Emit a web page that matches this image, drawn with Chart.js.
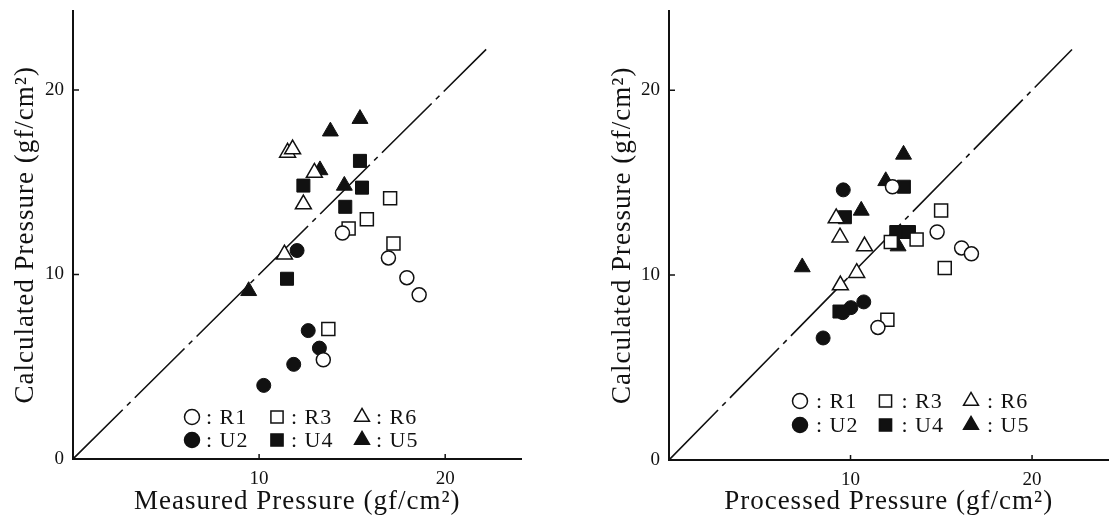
<!DOCTYPE html>
<html><head><meta charset="utf-8">
<script src="https://cdn.jsdelivr.net/npm/chart.js@4.4.1/dist/chart.umd.min.js"></script>
<style>
html,body{margin:0;padding:0;background:#fff;}
#wrap{position:relative;width:1119px;height:521px;overflow:hidden;background:#fff}
canvas{position:absolute;top:0}
#c1{left:0}
#c2{left:560px}
</style></head><body>
<div id="wrap"><canvas id="c1" width="560" height="521"></canvas><canvas id="c2" width="559" height="521"></canvas></div>
<script>
// ---------------- data ----------------
const seriesNames = ['R1', 'R3', 'R6', 'U2', 'U4', 'U5'];

// Left panel: Measured Pressure (x) vs Calculated Pressure (y)
const measuredR1 = [[14.48, 12.25], [16.95, 10.90], [17.94, 9.83], [18.60, 8.90], [13.45, 5.38]];
const measuredR3 = [[14.81, 12.49], [15.79, 13.00], [17.04, 14.13], [17.22, 11.68], [13.72, 7.05]];
const measuredR6 = [[11.53, 16.61], [11.80, 16.79], [12.97, 15.52], [12.38, 13.81], [11.36, 11.09]];
const measuredU2 = [[12.04, 11.30], [12.64, 6.96], [13.24, 6.01], [11.86, 5.13], [10.25, 3.99]];
const measuredU4 = [[15.42, 16.16], [12.38, 14.82], [15.53, 14.71], [14.63, 13.67], [11.50, 9.77]];
const measuredU5 = [[15.42, 18.44], [13.83, 17.76], [13.27, 15.66], [14.58, 14.82], [9.44, 9.11]];

// Right panel: Processed Pressure (x) vs Calculated Pressure (y)
const processedR1 = [[12.31, 14.78], [14.77, 12.33], [16.12, 11.47], [16.66, 11.15], [11.51, 7.17]];
const processedR3 = [[14.99, 13.49], [13.64, 11.92], [12.22, 11.79], [15.19, 10.39], [12.03, 7.58]];
const processedR6 = [[9.21, 13.08], [9.42, 12.04], [10.77, 11.56], [10.34, 10.12], [9.44, 9.45]];
const processedU2 = [[9.60, 14.61], [10.73, 8.55], [10.02, 8.24], [9.57, 7.97], [8.49, 6.60]];
const processedU4 = [[12.94, 14.78], [9.69, 13.13], [12.52, 12.33], [13.22, 12.33], [9.39, 8.03]];
const processedU5 = [[12.92, 16.52], [11.94, 15.09], [10.59, 13.49], [7.34, 10.43], [12.62, 11.56]];

// 1:1 reference line (from, to)
const diagonal = [0, 22.2];

// tick labels
const xTickValues = [10, 20];
const yTickValues = [0, 10, 20];
const tickMarkValues = [10, 20];

const yTitle = 'Calculated Pressure (gf/cm²)';
const xTitleLeft = 'Measured Pressure (gf/cm²)';
const xTitleRight = 'Processed Pressure (gf/cm²)';

// ---------------- styles ----------------
const INK = '#111';
const FONT = "'Liberation Serif', 'DejaVu Serif', serif";
const seriesStyle = {
  R1: {shape: 'circle', radius: 7, filled: false},
  R3: {shape: 'rect', radius: 9.2, filled: false},
  R6: {shape: 'triangle', radius: 9.2, filled: false},
  U2: {shape: 'circle', radius: 7, filled: true},
  U4: {shape: 'rect', radius: 9.2, filled: true},
  U5: {shape: 'triangle', radius: 9.2, filled: true}
};

function buildDatasets(seriesData) {
  const ds = seriesNames.map((name, i) => {
    const st = seriesStyle[name];
    return {
      type: 'scatter',
      label: name,
      data: seriesData[i].map(p => ({x: p[0], y: p[1]})),
      pointStyle: st.shape,
      pointRadius: st.radius,
      pointHoverRadius: st.radius,
      pointBackgroundColor: st.filled ? INK : '#fff',
      pointBorderColor: INK,
      pointBorderWidth: st.filled ? 1 : 1.5,
      order: st.filled ? 1 : 0
    };
  });
  ds.push({
    type: 'line',
    label: 'diag',
    data: diagonal.map(v => ({x: v, y: v})),
    borderColor: INK,
    borderWidth: 1.6,
    borderDash: [70, 6, 5, 6],
    pointRadius: 0,
    fill: false,
    tension: 0,
    order: 2
  });
  return ds;
}

// letter spacing for titles; reset before tick labels
const spacingPlugin = {
  id: 'spacing',
  beforeDraw(chart) { chart.ctx.letterSpacing = '1px'; },
  afterDatasetsDraw(chart) { chart.ctx.letterSpacing = '0px'; }
};

// inward tick marks
const inwardTicks = {
  id: 'inwardTicks',
  afterDraw(chart) {
    const ctx = chart.ctx, xs = chart.scales.x, ys = chart.scales.y;
    ctx.save();
    ctx.strokeStyle = INK;
    ctx.lineWidth = 1.5;
    ctx.beginPath();
    tickMarkValues.forEach(v => {
      const px = xs.getPixelForValue(v);
      ctx.moveTo(px, xs.top); ctx.lineTo(px, xs.top - 5);
      const py = ys.getPixelForValue(v);
      ctx.moveTo(ys.right, py); ctx.lineTo(ys.right + 6, py);
    });
    ctx.stroke();
    ctx.restore();
  }
};

// symbol key drawn inside the plot
const symbolKey = {
  id: 'symbolKey',
  afterDraw(chart, args, opts) {
    const ctx = chart.ctx;
    ctx.save();
    ctx.letterSpacing = '1px';
    ctx.font = '22px ' + FONT;
    ctx.textBaseline = 'middle';
    ctx.textAlign = 'left';
    seriesNames.forEach((name, i) => {
      const st = seriesStyle[name];
      const col = i % 3, row = Math.floor(i / 3);
      const x = opts.x + col * opts.dx, y = opts.y + row * opts.dy;
      ctx.fillStyle = st.filled ? INK : '#fff';
      ctx.strokeStyle = INK;
      ctx.lineWidth = 1.5;
      Chart.helpers.drawPoint(ctx, {pointStyle: st.shape, rotation: 0, radius: st.shape === 'circle' ? 7.5 : 8.6, borderWidth: 1.5}, x, y);
      ctx.fillStyle = INK;
      ctx.fillText(': ' + name, x + opts.textGap, y + 1);
    });
    ctx.restore();
  }
};

function makeChart(id, seriesData, xTitle, L) {
  return new Chart(document.getElementById(id), {
    type: 'scatter',
    data: {datasets: buildDatasets(seriesData)},
    plugins: [spacingPlugin, inwardTicks, symbolKey],
    options: {
      responsive: false,
      animation: false,
      events: [],
      layout: {padding: {top: L.padTop, right: L.padRight, bottom: 0, left: 0}},
      plugins: {
        legend: {display: false},
        tooltip: {enabled: false},
        symbolKey: L.key
      },
      scales: {
        x: {
          type: 'linear', position: 'bottom', min: 0, max: L.xMax,
          afterBuildTicks: s => { s.ticks = xTickValues.map(v => ({value: v})); },
          afterFit: s => { s.height = L.xHeight; s.paddingLeft = 0; s.paddingRight = 0; },
          grid: {display: false, drawTicks: false},
          border: {display: true, color: INK, width: 2},
          ticks: {color: INK, font: {family: FONT, size: 19}, padding: 9, maxRotation: 0, autoSkip: false, z: 1},
          title: {display: true, text: xTitle, color: INK, font: {family: FONT, size: 27}, padding: {top: 0, bottom: 3}}
        },
        y: {
          type: 'linear', position: 'left', min: 0, max: L.yMax,
          afterBuildTicks: s => { s.ticks = yTickValues.map(v => ({value: v})); },
          afterFit: s => { s.width = L.yWidth; s.paddingTop = 0; s.paddingBottom = 0; },
          grid: {display: false, drawTicks: false},
          border: {display: true, color: INK, width: 2},
          ticks: {color: INK, font: {family: FONT, size: 19}, padding: 9, autoSkip: false, z: 1},
          title: {display: true, text: yTitle, color: INK, font: {family: FONT, size: 27}, padding: {top: L.yTitlePad, bottom: 0}}
        }
      }
    }
  });
}

makeChart('c1',
  [measuredR1, measuredR3, measuredR6, measuredU2, measuredU4, measuredU5],
  xTitleLeft,
  {yWidth: 73, xHeight: 62, padTop: 7, padRight: 38.5, xMax: 24.1, yMax: 24.3, yTitlePad: 10,
   key: {x: 192, y: 417, dx: 85, dy: 23, textGap: 14}});

makeChart('c2',
  [processedR1, processedR3, processedR6, processedU2, processedU4, processedU5],
  xTitleRight,
  {yWidth: 109, xHeight: 61, padTop: 8, padRight: 0, xMax: 24.2, yMax: 24.3, yTitlePad: 47,
   key: {x: 240, y: 401, dx: 85.5, dy: 24, textGap: 16}});
</script>
</body></html>
